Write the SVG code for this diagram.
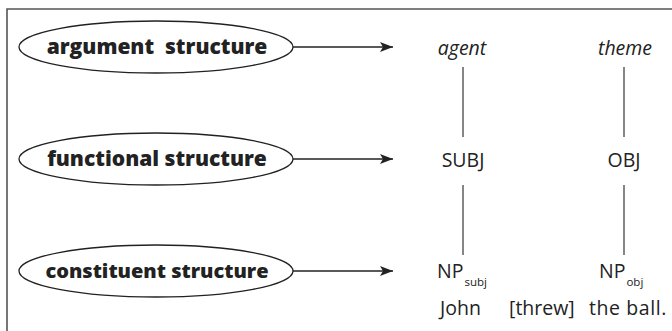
<svg xmlns="http://www.w3.org/2000/svg" width="672" height="331" viewBox="0 0 672 331">
<style>
.frame{fill:none;stroke:#555;stroke-width:1.6}
.ell{fill:#fff;stroke:#222;stroke-width:1.3}
.lbl{font-family:"Open Sans","DejaVu Sans",sans-serif;font-weight:800;font-size:21px;fill:#222;text-anchor:middle}
.t{font-family:"Open Sans","DejaVu Sans",sans-serif;font-size:19.5px;fill:#222}
.c{text-anchor:middle}
.it{font-style:italic}
.sub{font-size:11.5px}
.arr{stroke:#222;stroke-width:1.3;fill:none}
.ln{stroke:#444;stroke-width:1.3;fill:none}
</style>
<defs>
<marker id="ah" markerWidth="14" markerHeight="10" refX="13" refY="5" orient="auto" markerUnits="userSpaceOnUse">
<path d="M0,0 L13,5 L0,10 L3,5 Z" fill="#222"/>
</marker>
</defs>
<path class="frame" d="M7,331 L7,9 L672,9"/>
<g id="arg">
<ellipse class="ell" cx="156" cy="47" rx="137" ry="26"/>
<text class="lbl" x="157" y="54" xml:space="preserve">argument  structure</text>
</g>
<g id="func">
<ellipse class="ell" cx="156" cy="159" rx="137" ry="26"/>
<text class="lbl" x="157" y="166">functional structure</text>
</g>
<g id="const">
<ellipse class="ell" cx="156" cy="271" rx="137" ry="26"/>
<text class="lbl" x="157" y="278" style="font-size:20px">constituent structure</text>
</g>
<g id="agent"><text class="t it c" x="462" y="55">agent</text></g>
<g id="theme"><text class="t it c" x="625" y="55">theme</text></g>
<g id="subj"><text class="t c" x="463" y="167">SUBJ</text></g>
<g id="obj"><text class="t c" x="624" y="167">OBJ</text></g>
<g id="npsubj"><text class="t" x="437" y="278">NP<tspan class="sub" dx="1" dy="8">subj</tspan></text></g>
<g id="npobj"><text class="t" x="599" y="278">NP<tspan class="sub" dx="1" dy="8">obj</tspan></text></g>
<g id="sentence">
<text class="t" x="440" y="315">John</text>
<text class="t" x="509" y="315">[threw]</text>
<text class="t" x="589" y="315" style="letter-spacing:0.6px">the ball.</text>
</g>
<g id="connectors">
<line class="arr" x1="293" y1="47" x2="393" y2="47" marker-end="url(#ah)"/>
<line class="arr" x1="293" y1="159" x2="393" y2="159" marker-end="url(#ah)"/>
<line class="arr" x1="293" y1="271" x2="393" y2="271" marker-end="url(#ah)"/>
<line class="ln" x1="463" y1="67" x2="463" y2="137"/>
<line class="ln" x1="624" y1="67" x2="624" y2="137"/>
<line class="ln" x1="463" y1="185" x2="463" y2="255"/>
<line class="ln" x1="624" y1="185" x2="624" y2="255"/>
</g>
</svg>
